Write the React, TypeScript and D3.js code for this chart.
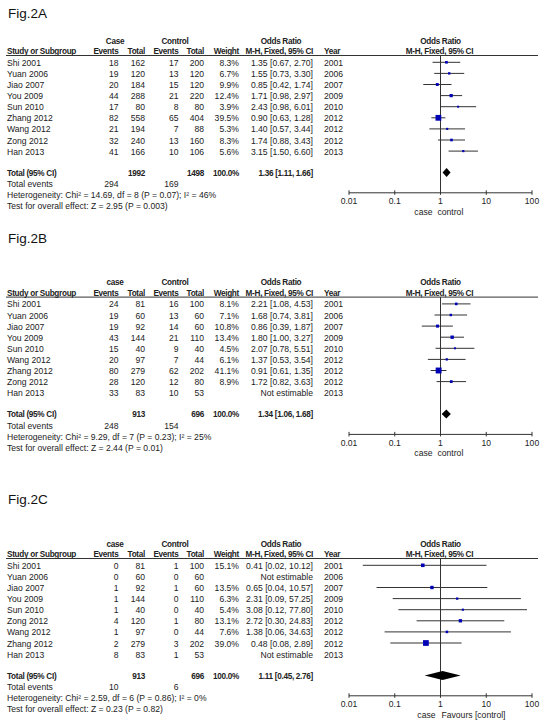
import React from "react";
import * as d3 from "d3";

// ---------- DATA ----------
const titles = ["Fig.2A", "Fig.2B", "Fig.2C"];
const groupCase = ["Case", "case", "case"];
const groupControl = ["Control", "Control", "Control"];
const favoursLeft = ["case", "case", "case"];
const favoursRight = ["control", "control", "Favours [control]"];

const studiesA = ["Shi 2001", "Yuan 2006", "Jiao 2007", "You 2009", "Sun 2010", "Zhang 2012", "Wang 2012", "Zong 2012", "Han 2013"];
const caseEventsA = [18, 19, 20, 44, 17, 82, 21, 32, 41];
const caseTotalA = [162, 120, 184, 288, 80, 558, 194, 240, 166];
const ctrlEventsA = [17, 13, 15, 21, 8, 65, 7, 13, 10];
const ctrlTotalA = [200, 120, 120, 220, 80, 404, 88, 160, 106];
const weightA = [8.3, 6.7, 9.9, 12.4, 3.9, 39.5, 5.3, 8.3, 5.6];
const orA = [1.35, 1.55, 0.85, 1.71, 2.43, 0.9, 1.4, 1.74, 3.15];
const loA = [0.67, 0.73, 0.42, 0.98, 0.98, 0.63, 0.57, 0.88, 1.5];
const hiA = [2.7, 3.3, 1.74, 2.97, 6.01, 1.28, 3.44, 3.43, 6.6];
const yearsA = [2001, 2006, 2007, 2009, 2010, 2012, 2012, 2012, 2013];

const studiesB = ["Shi 2001", "Yuan 2006", "Jiao 2007", "You 2009", "Sun 2010", "Wang 2012", "Zhang 2012", "Zong 2012", "Han 2013"];
const caseEventsB = [24, 19, 19, 43, 15, 20, 80, 28, 33];
const caseTotalB = [81, 60, 92, 144, 40, 97, 279, 120, 83];
const ctrlEventsB = [16, 13, 14, 21, 9, 7, 62, 12, 10];
const ctrlTotalB = [100, 60, 60, 110, 40, 44, 202, 80, 53];
const weightB = [8.1, 7.1, 10.8, 13.4, 4.5, 6.1, 41.1, 8.9, null];
const orB = [2.21, 1.68, 0.86, 1.8, 2.07, 1.37, 0.91, 1.72, null];
const loB = [1.08, 0.74, 0.39, 1.0, 0.78, 0.53, 0.61, 0.82, null];
const hiB = [4.53, 3.81, 1.87, 3.27, 5.51, 3.54, 1.35, 3.63, null];
const yearsB = [2001, 2006, 2007, 2009, 2010, 2012, 2012, 2012, 2013];

const studiesC = ["Shi 2001", "Yuan 2006", "Jiao 2007", "You 2009", "Sun 2010", "Zong 2012", "Wang 2012", "Zhang 2012", "Han 2013"];
const caseEventsC = [0, 0, 1, 1, 1, 4, 1, 2, 8];
const caseTotalC = [81, 60, 92, 144, 40, 120, 97, 279, 83];
const ctrlEventsC = [1, 0, 1, 0, 0, 1, 0, 3, 1];
const ctrlTotalC = [100, 60, 60, 110, 40, 80, 44, 202, 53];
const weightC = [15.1, null, 13.5, 6.3, 5.4, 13.1, 7.6, 39.0, null];
const orC = [0.41, null, 0.65, 2.31, 3.08, 2.72, 1.38, 0.48, null];
const loC = [0.02, null, 0.04, 0.09, 0.12, 0.3, 0.06, 0.08, null];
const hiC = [10.12, null, 10.57, 57.25, 77.8, 24.83, 34.63, 2.89, null];
const yearsC = [2001, 2006, 2007, 2009, 2010, 2012, 2012, 2012, 2013];

const totalCase = [1992, 913, 913];
const totalCtrl = [1498, 696, 696];
const totalOr = [1.36, 1.34, 1.11];
const totalLo = [1.11, 1.06, 0.45];
const totalHi = [1.66, 1.68, 2.76];
const eventsCase = [294, 248, 10];
const eventsCtrl = [169, 154, 6];
const hetText = [
  "Heterogeneity: Chi² = 14.69, df = 8 (P = 0.07); I² = 46%",
  "Heterogeneity: Chi² = 9.29, df = 7 (P = 0.23); I² = 25%",
  "Heterogeneity: Chi² = 2.59, df = 6 (P = 0.86); I² = 0%",
];
const testText = [
  "Test for overall effect: Z = 2.95 (P = 0.003)",
  "Test for overall effect: Z = 2.44 (P = 0.01)",
  "Test for overall effect: Z = 0.23 (P = 0.82)",
];
const tickValues = [0.01, 0.1, 1, 10, 100];
const tickLabels = ["0.01", "0.1", "1", "10", "100"];

// ---------- LAYOUT ----------
const panelOffsets = [0, 241.6, 503];
const titleY = [13, 238.3, 499.3];
const FONT = "'Liberation Sans', Arial, sans-serif";
const FS = 8.6;
const FSB = 8.2;
const TXT = "#222";

const studySets = [
  { s: studiesA, ce: caseEventsA, ct: caseTotalA, ke: ctrlEventsA, kt: ctrlTotalA, w: weightA, or: orA, lo: loA, hi: hiA, y: yearsA },
  { s: studiesB, ce: caseEventsB, ct: caseTotalB, ke: ctrlEventsB, kt: ctrlTotalB, w: weightB, or: orB, lo: loB, hi: hiB, y: yearsB },
  { s: studiesC, ce: caseEventsC, ct: caseTotalC, ke: ctrlEventsC, kt: ctrlTotalC, w: weightC, or: orC, lo: loC, hi: hiC, y: yearsC },
];

const x = d3.scaleLog().domain([0.01, 100]).range([349, 532]);
const rowY = d3.scaleLinear().domain([0, 1]).range([62.8, 73.9]);

const col = { study: 7, ce: 118.5, ct: 145, ke: 178.5, kt: 204, w: 239, or: 313, year: 324 };

function T(props: any) {
  const { children, bold, ...rest } = props;
  return (
    <text
      fontFamily={FONT}
      fontSize={bold ? FSB : FS}
      fontWeight={bold ? "bold" : "normal"}
      letterSpacing={bold ? -0.3 : 0}
      fill={TXT}
      dy="0.35em"
      {...rest}
    >
      {children}
    </text>
  );
}

function fmtCI(o: number, l: number, h: number) {
  return `${o.toFixed(2)} [${l.toFixed(2)}, ${h.toFixed(2)}]`;
}

function Panel({ i }: { i: number }) {
  const d = studySets[i];
  const off = panelOffsets[i];
  const gY = 40.7;
  const hY = 51.6;
  const lineY = 55.5;
  const totY = 173;
  const axisY = 192.8;
  return (
    <g>
      <text x={8} y={titleY[i]} dy="0.35em" fontFamily={FONT} fontSize={13.5} fill="#111">
        {titles[i]}
      </text>
      <g transform={`translate(0,${off})`}>
        {/* group headers */}
        <T x={115} y={gY} textAnchor="middle" bold>{groupCase[i]}</T>
        <T x={175} y={gY} textAnchor="middle" bold>{groupControl[i]}</T>
        <T x={281} y={gY} textAnchor="middle" bold>Odds Ratio</T>
        <T x={x(1)} y={gY} textAnchor="middle" bold>Odds Ratio</T>
        {/* column headers */}
        <T x={col.study} y={hY} bold>Study or Subgroup</T>
        <T x={col.ce} y={hY} textAnchor="end" bold>Events</T>
        <T x={col.ct} y={hY} textAnchor="end" bold>Total</T>
        <T x={col.ke} y={hY} textAnchor="end" bold>Events</T>
        <T x={col.kt} y={hY} textAnchor="end" bold>Total</T>
        <T x={col.w} y={hY} textAnchor="end" bold>Weight</T>
        <T x={col.or} y={hY} textAnchor="end" bold>M-H, Fixed, 95% CI</T>
        <T x={col.year} y={hY} bold>Year</T>
        <T x={x(1) - 1} y={hY} textAnchor="middle" bold>M-H, Fixed, 95% CI</T>
        <line x1={6} x2={538} y1={lineY} y2={lineY} stroke="#333" strokeWidth={1} />
        {/* rows */}
        {d.s.map((name, j) => {
          const yy = rowY(j);
          const w = d.w[j];
          const o = d.or[j];
          return (
            <g key={j}>
              <T x={col.study} y={yy}>{name}</T>
              <T x={col.ce} y={yy} textAnchor="end">{d.ce[j]}</T>
              <T x={col.ct} y={yy} textAnchor="end">{d.ct[j]}</T>
              <T x={col.ke} y={yy} textAnchor="end">{d.ke[j]}</T>
              <T x={col.kt} y={yy} textAnchor="end">{d.kt[j]}</T>
              {w != null && <T x={col.w} y={yy} textAnchor="end">{w.toFixed(1)}%</T>}
              <T x={col.or} y={yy} textAnchor="end">
                {o != null ? fmtCI(o, d.lo[j] as number, d.hi[j] as number) : "Not estimable"}
              </T>
              <T x={col.year} y={yy}>{d.y[j]}</T>
            </g>
          );
        })}
        {/* vertical line of no effect */}
        <line x1={x(1)} x2={x(1)} y1={lineY} y2={axisY} stroke="#333" strokeWidth={1} />
        {/* CI lines and squares */}
        {d.s.map((_, j) => {
          const o = d.or[j];
          if (o == null) return null;
          const yy = rowY(j) - 0.5;
          const side = Math.max(2, 0.92 * Math.sqrt(d.w[j] as number));
          return (
            <g key={"m" + j}>
              <line x1={x(d.lo[j] as number)} x2={x(d.hi[j] as number)} y1={yy} y2={yy} stroke="#333" strokeWidth={1} />
              <rect x={x(o) - side / 2} y={yy - side / 2} width={side} height={side} fill="#0000b4" />
            </g>
          );
        })}
        {/* total row */}
        <T x={col.study} y={totY} bold>Total (95% CI)</T>
        <T x={col.ct} y={totY} textAnchor="end" bold>{totalCase[i]}</T>
        <T x={col.kt} y={totY} textAnchor="end" bold>{totalCtrl[i]}</T>
        <T x={col.w} y={totY} textAnchor="end" bold>100.0%</T>
        <T x={col.or} y={totY} textAnchor="end" bold>
          {fmtCI(totalOr[i], totalLo[i], totalHi[i])}
        </T>
        <path
          d={`M${x(totalLo[i])},${totY - 0.5} L${x(totalOr[i])},${totY - 5} L${x(totalHi[i])},${totY - 0.5} L${x(totalOr[i])},${totY + 4} Z`}
          fill="#000"
        />
        <T x={col.study} y={totY + 11}>Total events</T>
        <T x={col.ce} y={totY + 11} textAnchor="end">{eventsCase[i]}</T>
        <T x={col.ke} y={totY + 11} textAnchor="end">{eventsCtrl[i]}</T>
        <T x={col.study} y={totY + 22}>{hetText[i]}</T>
        <T x={col.study} y={totY + 33}>{testText[i]}</T>
        {/* axis */}
        <line x1={x(0.01)} x2={x(100)} y1={axisY} y2={axisY} stroke="#333" strokeWidth={1} />
        {tickValues.map((t, k) => (
          <g key={"t" + k}>
            <line x1={x(t)} x2={x(t)} y1={axisY - 2.5} y2={axisY + 2} stroke="#333" strokeWidth={1} />
            <T x={x(t)} y={axisY + 8.5} textAnchor="middle">{tickLabels[k]}</T>
          </g>
        ))}
        <T x={x(1) + (i === 2 ? -5 : -8)} y={axisY + 19} textAnchor="end">{favoursLeft[i]}</T>
        <T x={x(1) + (i === 2 ? 1 : -3)} y={axisY + 19}>{favoursRight[i]}</T>
      </g>
    </g>
  );
}

export default function App() {
  return (
    <svg
      width={544}
      height={720}
      viewBox="0 0 544 720"
      style={{ position: "absolute", left: 0, top: 0, display: "block", background: "#fff" }}
    >
      <rect width={544} height={720} fill="#fff" />
      {[0, 1, 2].map((i) => (
        <Panel key={i} i={i} />
      ))}
    </svg>
  );
}
